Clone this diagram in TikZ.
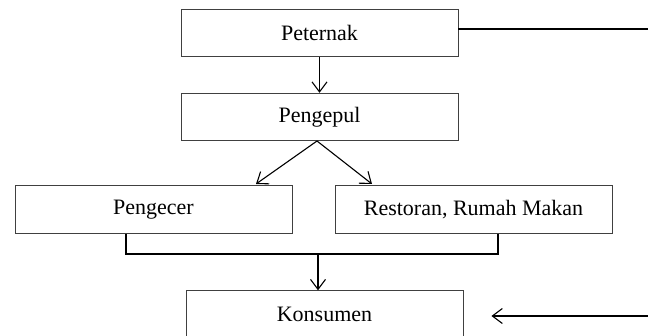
\documentclass[tikz,border=0pt]{standalone}
\usepackage{fontspec}
\setmainfont{Liberation Serif}
\usetikzlibrary{arrows.meta}
\begin{document}
\begin{tikzpicture}[x=1pt,y=-1pt,
  box/.style={draw=black!75,line width=0.9pt,minimum width=277pt,minimum height=47.5pt,inner sep=0pt,
    font=\fontsize{22pt}{26pt}\selectfont},
  conn/.style={line width=1.1pt,black},
  arr/.style={conn,-{Straight Barb[length=10pt,width=15pt,line width=1.1pt]}}]
\clip (0,0) rectangle (648,336);
\useasboundingbox (0,0) rectangle (648,336);
\node[box] (peternak) at (319.5,33) {Peternak};
\node[box] (pengepul) at (319.5,117) {Pengepul};
\node[box] (pengecer) at (153.5,209.5) {Pengecer};
\node[box] (restoran) at (473.5,209.5) {Restoran, Rumah Makan};
\node[box] (konsumen) at (324.5,314.5) {Konsumen};
\coordinate (r1) at (648,29);
\coordinate (r2) at (648,316);
\coordinate (tl) at (256,184);
\coordinate (tr) at (372,184);
\coordinate (src) at (317,141);
\coordinate (bl) at (126,254);
\coordinate (br) at (498,254);
\coordinate (bm) at (318,254);
\draw[conn] (peternak.east |- r1) -- (r1);
\draw[arr] (peternak.south -| pengepul.north) -- (pengepul.north);
\draw[arr] (src) -- (tl);
\draw[arr] (src) -- (tr);
\draw[conn] (pengecer.south -| bl) -- (bl) -- (br) -- (restoran.south -| br);
\draw[arr] (bm) -- (konsumen.north -| bm);
\draw[arr,shorten >=28pt] (r2) -- (konsumen.east |- r2);
\end{tikzpicture}
\end{document}
